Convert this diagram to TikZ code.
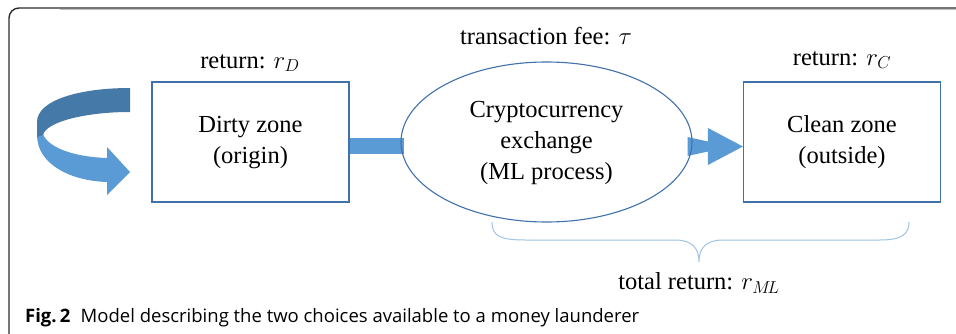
\documentclass[tikz,border=0pt]{standalone}
\usepackage{fontspec}
\setmainfont{Liberation Serif}
\newfontfamily\capfont{Open Sans}
\usetikzlibrary{shapes.geometric,calc,backgrounds}
\definecolor{boxblue}{RGB}{65,113,170}
\definecolor{arrowblue}{RGB}{91,155,213}
\definecolor{darkblue}{RGB}{68,121,168}
\definecolor{braceblue}{RGB}{157,195,230}
\definecolor{framegray}{RGB}{45,45,45}
\newcommand{\dn}[1]{\raisebox{-3pt}{\begin{tabular}{@{}c@{}}#1\end{tabular}}}
\tikzset{
  zone/.style={draw=boxblue, line width=1.1pt, rectangle, minimum width=197pt, minimum height=120pt, inner sep=0pt, align=center, font=\fontsize{24.5}{31}\selectfont},
  exch/.style={draw=boxblue, line width=1.1pt, ellipse, minimum width=291pt, minimum height=160pt, inner sep=0pt, align=center, font=\fontsize{24.5}{31}\selectfont},
  lab/.style={inner sep=0pt, font=\fontsize{24.5}{30}\selectfont},
}
\begin{document}
\begin{tikzpicture}[x=1pt,y=-1pt]
\useasboundingbox (0,0) rectangle (956,334);
\clip (0,0) rectangle (956,334);
% frame
\draw[line width=1.4pt, draw=framegray, rounded corners=10pt] (40,345) -- (9,345) -- (9,8) -- (970,8);
\draw[line width=0.8pt, draw=black!25] (60,9.9) -- (970,9.9);
% nodes
\node[zone] (dirty) at (250.5,142) {\dn{Dirty zone\\(origin)}};
\node[exch] (exch) at (546.5,142) {\dn{Cryptocurrency\\exchange\\(ML process)}};
\node[zone] (clean) at (842,142) {\dn{Clean zone\\(outside)}};
\node[lab] (rd) at (250,63) {return: $r_D$};
\node[lab] (tf) at (546,36) {transaction fee: $\tau$};
\node[lab] (rc) at (842,60) {return: $r_C$};
\node[lab] (tot) at (699,283) {total return: $r_{M\!L}$};
\begin{scope}[on background layer]
% bar dirty -> exchange
\fill[arrowblue] ($(dirty.east)+(0,-4)$) rectangle ($(exch.west)+(4,12)$);
% arrow exchange -> clean
\coordinate (tip) at ($(clean.west)+(0,4.5)$);
\fill[arrowblue] ($(exch.east)+(-5,-5)$) -- ($(tip)+(-35,-5)$) -- ($(tip)+(-35,-18.5)$) -- (tip) -- ($(tip)+(-35,18.5)$) -- ($(tip)+(-35,5)$) -- ($(exch.east)+(-5,14)$) -- cycle;
\end{scope}
% brace
\draw[braceblue, line width=1pt] (492,222) .. controls (492,236) and (500,240) .. (525,240) -- (675,240) .. controls (692,240) and (699,248) .. (699,262) .. controls (699,248) and (706,240) .. (723,240) -- (880,240) .. controls (902,240) and (909,234) .. (909,222);
% curved self arrow
\fill[arrowblue] (37,135) .. controls (37,165) and (72,181) .. (107,182) -- (107,195) -- (130,172) -- (107,147) -- (107,158) .. controls (75,157) and (48,148) .. (43,134) -- cycle;
\fill[darkblue] (130,88) .. controls (80,88) and (37,100) .. (37,122) -- (37,137) -- (43,135) .. controls (46,122) and (85,112) .. (130,112) -- cycle;
% caption
\node[anchor=base west, inner sep=0pt, font=\capfont\fontsize{18.5}{22}\selectfont] (cap) at (25,322) {\textbf{Fig.\,2}\hspace{0.3em} Model describing the two choices available to a money launderer};
\end{tikzpicture}
\end{document}
